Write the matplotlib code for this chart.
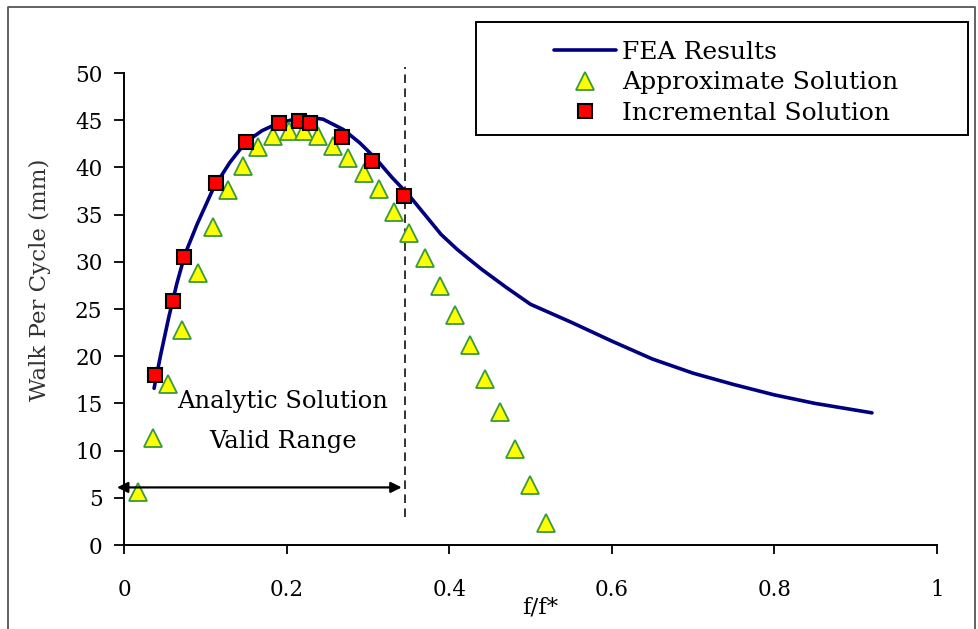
import numpy as np
import matplotlib.pyplot as plt
from matplotlib.patches import Rectangle

plt.rcParams['font.family'] = ['DejaVu Serif']

# FEA results
fea_x = [0.037, 0.045, 0.055, 0.065, 0.075, 0.09, 0.11, 0.13, 0.15, 0.17, 0.19,
         0.21, 0.23, 0.245, 0.27, 0.29, 0.31, 0.33, 0.35, 0.37, 0.39, 0.41, 0.4256,
         0.44, 0.47, 0.50, 0.55, 0.60, 0.65, 0.70, 0.75, 0.80, 0.85, 0.92]
fea_y = [16.6, 20.1, 24.1, 27.7, 30.8, 34.0, 37.8, 40.5, 42.7, 43.9, 44.7,
         45.1, 45.3, 45.1, 44.0, 42.6, 40.9, 38.9, 37.1, 35.0, 32.9, 31.3, 30.2,
         29.2, 27.3, 25.5, 23.6, 21.6, 19.7, 18.2, 17.0, 15.9, 15.0, 14.0]

# approximate solution
apx_x = [0.0168, 0.036, 0.0545, 0.071, 0.0906, 0.1099, 0.1284, 0.1468, 0.1652,
         0.1837, 0.2034, 0.2214, 0.239, 0.2575, 0.276, 0.295, 0.3137, 0.332,
         0.351, 0.370, 0.3887, 0.407, 0.4256, 0.444, 0.4625, 0.481, 0.4994, 0.5187]
apx_y = [5.65, 11.3, 17.05, 22.8, 28.8, 33.7, 37.6, 40.15, 42.2, 43.3, 43.85,
         43.85, 43.3, 42.25, 41.0, 39.4, 37.7, 35.3, 33.1, 30.4, 27.4, 24.4,
         21.2, 17.55, 14.1, 10.2, 6.35, 2.3]

# incremental solution
inc_x = [0.0381, 0.0598, 0.0738, 0.1132, 0.150, 0.1907, 0.2155, 0.2286,
         0.2677, 0.3046, 0.3448]
inc_y = [18.0, 25.9, 30.5, 38.3, 42.7, 44.75, 44.95, 44.7, 43.25, 40.65, 37.0]

xticks = [0, 0.2, 0.4, 0.6, 0.8, 1]
xticklabels = ['0', '0.2', '0.4', '0.6', '0.8', '1']
yticks = [0, 5, 10, 15, 20, 25, 30, 35, 40, 45, 50]

valid_limit = 0.3456

W, H = 979, 629
fig = plt.figure(figsize=(W / 100, H / 100), dpi=100)
ax = fig.add_axes([124 / W, 1 - 545 / H, 813 / W, 472 / H])

ax.plot(fea_x, fea_y, color='#000080', lw=2.6, solid_capstyle='round',
        solid_joinstyle='round', label='FEA Results', zorder=3)
ax.plot(apx_x, apx_y, ls='none', marker='^', ms=12.5, mfc='#ffff00',
        mec='#3a9a3a', mew=1.3, label='Approximate Solution', zorder=4)
ax.plot(inc_x, inc_y, ls='none', marker='s', ms=10.5, mfc='#ff0000',
        mec='black', mew=1.5, label='Incremental Solution', zorder=5)

ax.plot([valid_limit, valid_limit], [3.0, 50.6], color='#333333', lw=1.4,
        ls=(0, (4.4, 2.8)), clip_on=False, zorder=2)

ax.annotate('', xy=(-0.0086, 6.1), xytext=(0.3415, 6.1),
            arrowprops=dict(arrowstyle='<|-|>', color='black', lw=1.6,
                            mutation_scale=16, shrinkA=0, shrinkB=0),
            annotation_clip=False, zorder=6)

ax.text(0.195, 15.2, 'Analytic Solution', ha='center', va='center', fontsize=17.5)
ax.text(0.196, 10.95, 'Valid Range', ha='center', va='center', fontsize=17.5)

ax.set_xlim(0, 1)
ax.set_ylim(0, 50)
ax.set_xticks(xticks)
ax.set_xticklabels(xticklabels)
ax.set_yticks(yticks)
for s in ['top', 'right']:
    ax.spines[s].set_visible(False)
for s in ['left', 'bottom']:
    ax.spines[s].set_linewidth(1.4)
ax.tick_params(axis='both', direction='out', width=1.3, labelsize=15.5)
ax.tick_params(axis='y', length=7.5, pad=8)
ax.tick_params(axis='x', length=6.5, pad=18)

fig.text(40 / W, 1 - 280 / H, 'Walk Per Cycle (mm)', rotation=90, ha='center',
         va='center', fontsize=16.5, color='#333333')
fig.text(540 / W, 1 - 607 / H, 'f/f*', ha='center', va='center', fontsize=16.5)

# legend box
fig.patches.append(Rectangle((476 / W, 1 - 135 / H), (968 - 476) / W, (135 - 22) / H,
                             transform=fig.transFigure, fill=False,
                             edgecolor='black', lw=1.4))
ax.legend(loc='upper left', bbox_to_anchor=(554 / W, 1 - 41 / H),
          bbox_transform=fig.transFigure, frameon=False, fontsize=18,
          handlelength=2.5, handletextpad=0.24, borderpad=0, borderaxespad=0,
          labelspacing=0.3)

# outer frame
fig.add_artist(plt.Line2D([8 / W, 8 / W, 975 / W, 975 / W], [0, 1 - 7 / H, 1 - 7 / H, 0],
                          transform=fig.transFigure, color='#555555', lw=1.3))

fig.savefig('out.png', dpi=100)
